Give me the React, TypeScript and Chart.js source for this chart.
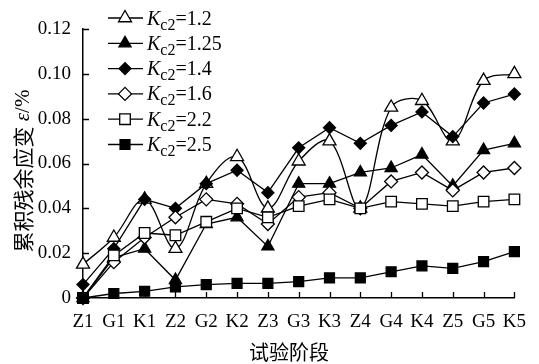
import React, { useEffect, useRef } from 'react';
import { Chart, registerables } from 'chart.js';
import { drawPoint } from 'chart.js/helpers';

Chart.register(...registerables);

const SERIF = '"Liberation Serif", "Times New Roman", serif';
const CJK = '"Noto Sans CJK SC", "Noto Sans CJK JP", sans-serif';

// Test stages along the x axis
const stages = ['Z1', 'G1', 'K1', 'Z2', 'G2', 'K2', 'Z3', 'G3', 'K3', 'Z4', 'G4', 'K4', 'Z5', 'G5', 'K5'];

// Kc2 value of each series
const kc2Labels = ['1.2', '1.25', '1.4', '1.6', '2.2', '2.5'];

// Cumulative residual strain (%) per stage
const strainKc12 = [0.015, 0.027, 0.044, 0.022, 0.051, 0.063, 0.040, 0.061, 0.070, 0.040, 0.085, 0.088, 0.070, 0.097, 0.100];
const strainKc125 = [0, 0.018, 0.022, 0.008, 0.033, 0.036, 0.023, 0.051, 0.051, 0.056, 0.058, 0.064, 0.050, 0.066, 0.069];
const strainKc14 = [0.006, 0.022, 0.044, 0.040, 0.051, 0.057, 0.047, 0.067, 0.076, 0.069, 0.077, 0.083, 0.072, 0.087, 0.091];
const strainKc16 = [0, 0.016, 0.027, 0.036, 0.044, 0.042, 0.033, 0.045, 0.047, 0.040, 0.052, 0.056, 0.048, 0.056, 0.058];
const strainKc22 = [0, 0.019, 0.029, 0.028, 0.034, 0.040, 0.036, 0.041, 0.044, 0.040, 0.043, 0.042, 0.041, 0.043, 0.044];
const strainKc25 = [0, 0.002, 0.003, 0.005, 0.006, 0.0065, 0.0065, 0.0073, 0.009, 0.009, 0.0117, 0.0143, 0.0132, 0.0162, 0.0207];

// Y axis range and tick step
const yMin = 0;
const yMax = 0.12;
const yStep = 0.02;

const xTitle = '试验阶段';
const yTitleCjk = '累积残余应变';

type MarkerStyle = { pointStyle: string; fill: string; radius: number; tension: number };

const markerStyles: MarkerStyle[] = [
  { pointStyle: 'triangle', fill: '#ffffff', radius: 7.5, tension: 0.35 },
  { pointStyle: 'triangle', fill: '#000000', radius: 7, tension: 0 },
  { pointStyle: 'rectRot', fill: '#000000', radius: 6, tension: 0 },
  { pointStyle: 'rectRot', fill: '#ffffff', radius: 6.5, tension: 0 },
  { pointStyle: 'rect', fill: '#ffffff', radius: 7.5, tension: 0 },
  { pointStyle: 'rect', fill: '#000000', radius: 7, tension: 0 },
];

const decorPlugin = {
  id: 'decor',
  afterDraw(chart: any) {
    const ctx: CanvasRenderingContext2D = chart.ctx;
    const xs = chart.scales.x;
    const ys = chart.scales.y;
    const area = chart.chartArea;
    ctx.save();

    // inward tick marks
    ctx.strokeStyle = '#000';
    ctx.lineWidth = 1.3;
    ctx.beginPath();
    ys.ticks.forEach((_t: any, i: number) => {
      const y = Math.round(ys.getPixelForTick(i)) + 0.5;
      ctx.moveTo(area.left, y);
      ctx.lineTo(area.left + 6, y);
    });
    xs.ticks.forEach((_t: any, i: number) => {
      if (i === 0) return;
      const x = Math.round(xs.getPixelForTick(i)) + 0.5;
      ctx.moveTo(x, area.bottom);
      ctx.lineTo(x, area.bottom - 6);
    });
    ctx.stroke();

    // legend
    const lx0 = 108;
    const lx1 = 143;
    const mx = 125;
    const tx = 147;
    chart.data.datasets.forEach((ds: any, i: number) => {
      const cy = 18 + i * 25.3;
      ctx.strokeStyle = '#000';
      ctx.lineWidth = 1.3;
      ctx.beginPath();
      ctx.moveTo(lx0, cy);
      ctx.lineTo(lx1, cy);
      ctx.stroke();
      ctx.fillStyle = ds.pointBackgroundColor;
      ctx.strokeStyle = '#000';
      ctx.lineWidth = 1.3;
      drawPoint(ctx, { pointStyle: ds.pointStyle, radius: ds.pointRadius, rotation: 0, borderWidth: 1.3 }, mx, cy);

      const base = cy + 6.5;
      ctx.fillStyle = '#000';
      ctx.textBaseline = 'alphabetic';
      ctx.textAlign = 'left';
      let x = tx;
      ctx.font = `italic 20px ${SERIF}`;
      ctx.fillText('K', x, base);
      x += ctx.measureText('K').width;
      ctx.font = `16px ${SERIF}`;
      ctx.fillText('c2', x, base + 5);
      x += ctx.measureText('c2').width;
      ctx.font = `20px ${SERIF}`;
      ctx.fillText('=' + kc2Labels[i], x, base);
    });

    // x axis title
    ctx.font = `20px ${CJK}`;
    ctx.textAlign = 'center';
    ctx.textBaseline = 'middle';
    ctx.fillStyle = '#000';
    ctx.fillText(xTitle, 289, 352);

    // y axis title, rotated
    ctx.translate(23, 171);
    ctx.rotate(-Math.PI / 2);
    const runs = [
      { text: yTitleCjk, font: `21px ${CJK}` },
      { text: ' ', font: `21px ${SERIF}` },
      { text: 'ε', font: `italic 21px ${SERIF}` },
      { text: '/%', font: `21px ${SERIF}` },
    ];
    let total = 0;
    runs.forEach((r) => {
      ctx.font = r.font;
      total += ctx.measureText(r.text).width;
    });
    let px = -total / 2;
    ctx.textAlign = 'left';
    runs.forEach((r) => {
      ctx.font = r.font;
      ctx.fillText(r.text, px, 0);
      px += ctx.measureText(r.text).width;
    });
    ctx.restore();
  },
};

export default function App() {
  const canvasRef = useRef<HTMLCanvasElement>(null);

  useEffect(() => {
    document.body.style.margin = '0';
    const canvas = canvasRef.current;
    if (!canvas) return;
    const series = [strainKc12, strainKc125, strainKc14, strainKc16, strainKc22, strainKc25];

    const chart = new Chart(canvas, {
      type: 'line',
      data: {
        labels: stages,
        datasets: series.map((values, i) => ({
          label: 'Kc2=' + kc2Labels[i],
          data: values,
          borderColor: '#000',
          borderWidth: 1.3,
          tension: markerStyles[i].tension,
          pointStyle: markerStyles[i].pointStyle as any,
          pointRadius: markerStyles[i].radius,
          pointBackgroundColor: markerStyles[i].fill,
          pointBorderColor: '#000',
          pointBorderWidth: 1.3,
          fill: false,
          clip: false as any,
          order: 6 - i,
        })),
      },
      options: {
        responsive: false,
        animation: false,
        devicePixelRatio: 1,
        layout: { padding: { top: 29, right: 14, bottom: 0, left: 0 } },
        plugins: {
          legend: { display: false },
          tooltip: { enabled: false },
        },
        scales: {
          x: {
            type: 'category',
            offset: false,
            grid: { display: false, drawTicks: false },
            border: { display: true, color: '#000', width: 1.5 },
            ticks: {
              color: '#000',
              font: { family: SERIF, size: 19 },
              padding: 13,
              maxRotation: 0,
              autoSkip: false,
            },
            afterFit: (s: any) => {
              s.height = 66;
            },
          },
          y: {
            min: yMin,
            max: yMax,
            grid: { display: false, drawTicks: false },
            border: { display: true, color: '#000', width: 1.5 },
            ticks: {
              stepSize: yStep,
              color: '#000',
              font: { family: SERIF, size: 19 },
              padding: 12,
              callback: (v: any) => (Number(v) === 0 ? '0' : Number(v).toFixed(2)),
            },
            afterFit: (s: any) => {
              s.width = 83;
            },
          },
        },
      },
      plugins: [decorPlugin],
    });

    return () => chart.destroy();
  }, []);

  return (
    <div style={{ width: 539, height: 364 }}>
      <canvas ref={canvasRef} width={539} height={364} />
    </div>
  );
}
